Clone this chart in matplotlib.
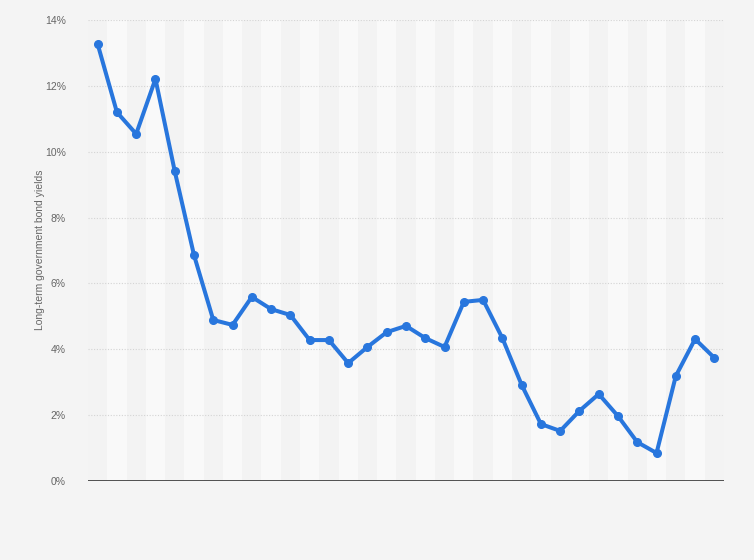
import numpy as np
import matplotlib.pyplot as plt

# yields in percent, one point per year (no year labels shown)
yields = [13.27, 11.2, 10.54, 12.21, 9.41, 6.86, 4.89, 4.74, 5.59, 5.22,
          5.04, 4.28, 4.28, 3.58, 4.07, 4.52, 4.71, 4.34, 4.07, 5.44,
          5.50, 4.34, 2.92, 1.73, 1.52, 2.13, 2.64, 1.97, 1.18, 0.85,
          3.19, 4.31, 3.74]
y_ticks = [0, 2, 4, 6, 8, 10, 12, 14]


def main():
    plt.rcParams['font.family'] = ['Liberation Sans', 'DejaVu Sans']
    n = len(yields)
    x = np.arange(n)

    fig = plt.figure(figsize=(7.54, 5.6), dpi=100, facecolor='#f4f4f4')
    ax = fig.add_axes([88/754, 1 - 481/560, 636/754, 461/560])
    ax.set_facecolor('#f3f3f3')

    # alternating column bands
    for i in range(1, n, 2):
        ax.axvspan(i - 0.5, i + 0.5, color='#f9f9f9', lw=0, zorder=0)

    for t in y_ticks[1:]:
        ax.axhline(t, color='#d4d4d4', lw=0.8, ls=(0, (1, 1.5)), zorder=1)
    ax.axhline(0, color='#333333', lw=1.2, zorder=3)

    ax.plot(x, yields, color='#2876dd', lw=2.9, marker='o', ms=5.5,
            solid_joinstyle='round', zorder=4)

    ax.set_xlim(-0.5, n - 0.5)
    ax.set_ylim(0, 14)
    ax.set_yticks(y_ticks)
    ax.set_yticklabels([f'{t}%' for t in y_ticks])
    ax.set_xticks([])
    ax.tick_params(axis='y', length=0, labelsize=7.5, colors='#666666', pad=16)
    for s in ax.spines.values():
        s.set_visible(False)

    fig.text(40/754, 1 - 250/560, 'Long-term government bond yields',
             rotation=90, ha='center', va='center', fontsize=7.5, color='#666666')

    fig.savefig('out.png', dpi=100, facecolor=fig.get_facecolor())


if __name__ == '__main__':
    main()
